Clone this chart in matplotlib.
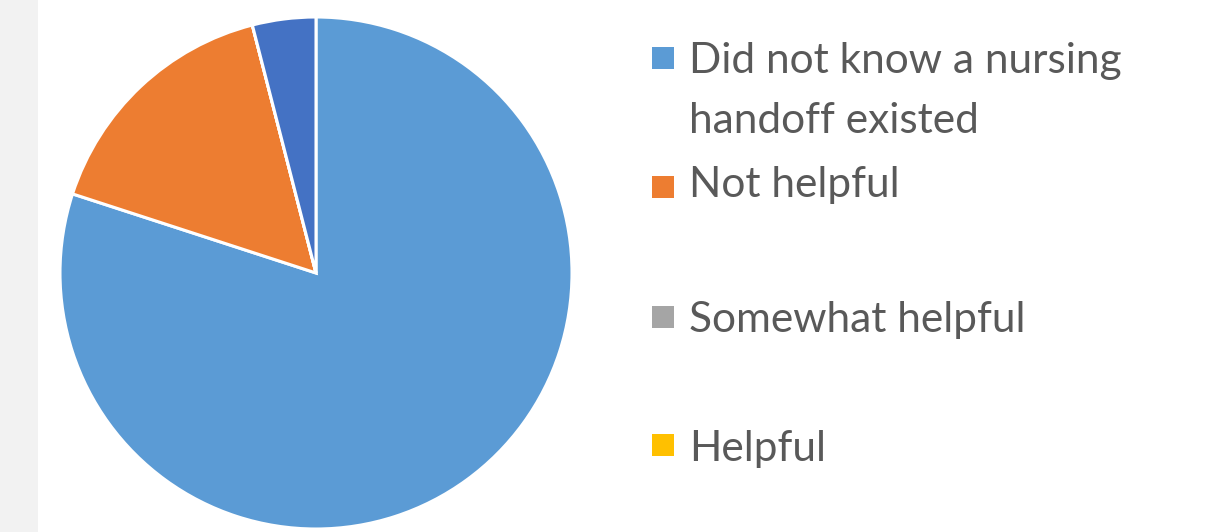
import matplotlib
matplotlib.use("Agg")
import matplotlib.pyplot as plt
from matplotlib.patches import Rectangle

# survey answers (25 respondents)
categories = ["Did not know a nursing\nhandoff existed", "Not helpful",
              "Somewhat helpful", "Helpful", "Very helpful"]
counts = [20, 4, 0, 0, 1]
colors = ["#5B9BD5", "#ED7D31", "#A5A5A5", "#FFC000", "#4472C4"]
n_legend = 4  # only the first four show in the legend

W, H = 1229, 532
fig = plt.figure(figsize=(W / 100, H / 100), dpi=100)
fig.patch.set_facecolor("white")

# grey strip on the left
fig.patches.append(Rectangle((0, 0), 38 / W, 1, transform=fig.transFigure,
                             facecolor="#F2F2F2", edgecolor="none", zorder=0))

# pie: centre (316, 273) px, radius 256 px
cx, cy, r = 316, 273, 256
ax = fig.add_axes([(cx - r) / W, (H - cy - r) / H, 2 * r / W, 2 * r / H])
ax.pie(counts, colors=colors, startangle=90, counterclock=False, radius=1,
       wedgeprops=dict(edgecolor="white", linewidth=2.2))
ax.set_xlim(-1, 1)
ax.set_ylim(-1, 1)
ax.set_aspect("equal")
ax.axis("off")

# legend drawn by hand to match the Excel layout
sq = 22
marker_y = [57.5, 187, 317, 445]
text_base = [73, 197, 332, 461]
for i in range(n_legend):
    fig.patches.append(Rectangle((652 / W, (H - marker_y[i] - sq / 2) / H), sq / W, sq / H,
                                 transform=fig.transFigure, facecolor=colors[i],
                                 edgecolor="none"))
    lines = categories[i].split("\n")
    for j, line in enumerate(lines):
        fig.text(689 / W, (H - text_base[i] - 60 * j) / H, line, fontsize=30.5,
                 family="Lato", color="#595959", va="baseline", ha="left")

fig.savefig("out.png", dpi=100)
